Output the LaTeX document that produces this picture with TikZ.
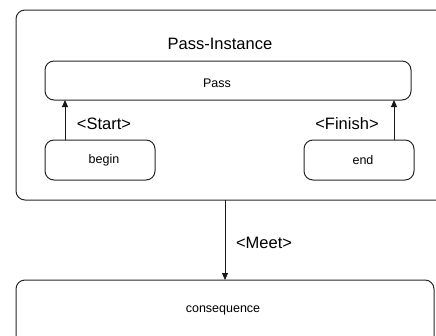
\documentclass[tikz,border=0pt]{standalone}
\usepackage{fontspec}
\setmainfont{Liberation Sans}
\usetikzlibrary{arrows.meta}
\begin{document}
\begin{tikzpicture}[x=1pt,y=-1pt,
  box/.style={draw=black!85, line width=1pt, rounded corners=9pt},
  small/.style={font=\fontsize{12.5}{14}\selectfont},
  big/.style={font=\fontsize{16.5}{19}\selectfont},
  flow/.style={draw=black!90, line width=0.9pt, -{Triangle[length=7pt,width=6pt]}}]
\useasboundingbox (0,0) rectangle (436,335);
\begin{scope}
\clip (0,0) rectangle (436,335);
% container and the boxes inside it
\draw[box] (16,10) rectangle (450,200);
\node[big] (title) at (220,44) {Pass-Instance};
\draw[box] (45,61) rectangle (411,100);
\coordinate (passL) at (65,100);
\coordinate (passR) at (394,100);
\node[small] (pass) at (217,83) {Pass};
\draw[box] (45,140) rectangle (155,180);
\node[small] (begin) at (104,160) {begin};
\draw[box] (304,140) rectangle (414,180);
\node[small] (end) at (363,160) {end};
\coordinate (beginT) at (65,140);
\coordinate (endT) at (394,140);
\draw[flow] (beginT) -- (passL);
\draw[flow] (endT) -- (passR);
\node[big] (start) at (104,124) {<Start>};
\node[big] (finish) at (347,124) {<Finish>};
% result box below
\draw[box] (16,280) rectangle (434,350);
\node[small] (cons) at (223,310) {consequence};
\coordinate (outB) at (225,200);
\coordinate (consT) at (225,280);
\draw[flow] (outB) -- (consT);
\node[big] (meet) at (264,243) {<Meet>};
\end{scope}
\end{tikzpicture}
\end{document}
